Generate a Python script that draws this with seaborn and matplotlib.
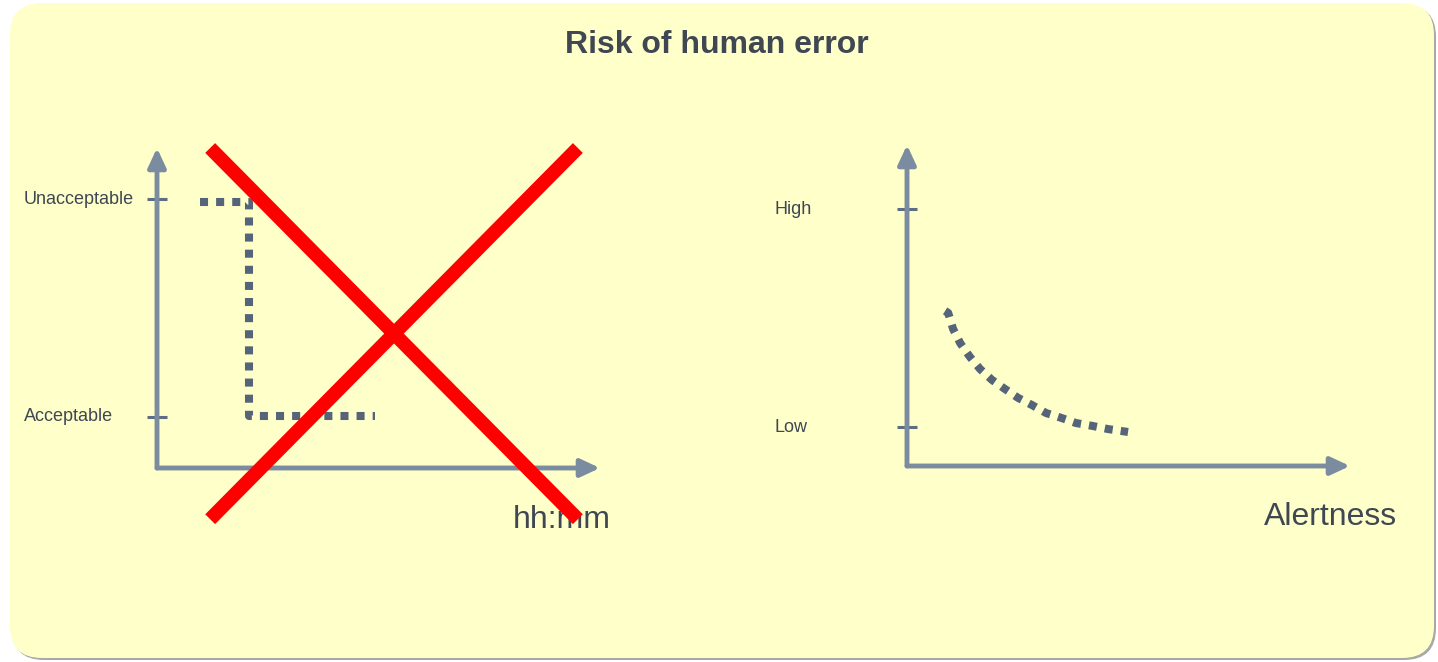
import matplotlib
matplotlib.use('Agg')
import matplotlib.pyplot as plt
import matplotlib.transforms as mtransforms
from matplotlib.patches import FancyBboxPatch
import seaborn as sns

# Left panel: error risk vs time of day (crossed out)
time_ticks = [84, 16]
time_tick_labels = ['Unacceptable', 'Acceptable']
step_x = [9.7, 20.8, 20.8, 49.2]
step_y = [83, 83, 16.3, 16.3]
cross_x = [12, 95]
cross_down_y = [100, -16]
cross_up_y = [-16, 100]

# Right panel: error risk vs alertness
alert_ticks = [80, 12]
alert_tick_labels = ['High', 'Low']
alert_x = [8.6, 9.3, 10.4, 12.0, 14.2, 16.5, 19.2, 22.1, 25.1, 28.2, 31.4,
           34.8, 38.1, 41.8, 45.4, 49.9]
alert_y = [48.3, 47.7, 42.7, 38.3, 34.0, 30.2, 26.8, 24.0, 21.2, 19.0, 16.5,
           15.0, 13.4, 12.5, 11.5, 10.6]

sns.set_theme(style='white')
plt.rcParams['font.family'] = ['Liberation Sans', 'DejaVu Sans']

W, H = 1438, 662
AXIS_COL = '#7b8ba0'
TICK_COL = '#5d6d82'
DOT_COL = '#56647a'
TEXT_COL = '#3f4752'

fig = plt.figure(figsize=(W / 100, H / 100), dpi=100)
fig.patch.set_facecolor('white')

# background card
bg = fig.add_axes([0, 0, 1, 1])
bg.set_xlim(0, W)
bg.set_ylim(H, 0)
bg.axis('off')
bg.add_patch(FancyBboxPatch((12, 5), 1424, 655, boxstyle='round,pad=0,rounding_size=32',
                            fc='#a8a8a8', ec='none'))
bg.add_patch(FancyBboxPatch((10, 3), 1424, 655, boxstyle='round,pad=0,rounding_size=32',
                            fc='#ffffca', ec='none'))

fig.text(717 / W, 1 - 53 / H, 'Risk of human error', ha='center', va='baseline',
         fontsize=23, fontweight='bold', color=TEXT_COL)


def make_axes(px_left, px_bottom, px_w, px_h):
    ax = fig.add_axes([px_left / W, 1 - px_bottom / H, px_w / W, px_h / H])
    ax.set_xlim(0, 100)
    ax.set_ylim(0, 100)
    ax.set_facecolor('none')
    for s in ax.spines.values():
        s.set_visible(False)
    ax.set_xticks([])
    arrow = dict(arrowstyle='-|>,head_length=0.58,head_width=0.27', color=AXIS_COL,
                 lw=3.5, shrinkA=0, shrinkB=0, mutation_scale=20)
    ax.annotate('', xy=(1, 0), xytext=(0, 0), xycoords='axes fraction', arrowprops=arrow)
    ax.annotate('', xy=(0, 1), xytext=(0, 0), xycoords='axes fraction', arrowprops=arrow)
    return ax


def add_ticks(ax, ticks, labels):
    ax.set_yticks(ticks)
    ax.set_yticklabels([])
    ax.tick_params(axis='y', direction='inout', length=14, width=2.2, color=TICK_COL, left=True)
    trans = mtransforms.blended_transform_factory(ax.transAxes, ax.transData)
    for t, lab in zip(ticks, labels):
        ax.text(-0.30, t, lab, transform=trans, ha='left', va='center',
                fontsize=13, color=TEXT_COL)


dots = dict(color=DOT_COL, linewidth=5.8, linestyle=(0, (1, 1)),
            dash_capstyle='butt', estimator=None, sort=False, legend=False)

# left chart
ax1 = make_axes(157, 468, 443, 320)
add_ticks(ax1, time_ticks, time_tick_labels)
sns.lineplot(x=step_x, y=step_y, ax=ax1, **dots)
ax1.plot(cross_x, cross_down_y, color='#ff0000', lw=10, solid_capstyle='butt',
         clip_on=False, zorder=5)
ax1.plot(cross_x, cross_up_y, color='#ff0000', lw=10, solid_capstyle='butt',
         clip_on=False, zorder=5)
ax1.text(1.025, -0.162, 'hh:mm', transform=ax1.transAxes, ha='right', va='center',
         fontsize=23, color=TEXT_COL, zorder=1)

# right chart
ax2 = make_axes(907, 466, 443, 321)
add_ticks(ax2, alert_ticks, alert_tick_labels)
sns.lineplot(x=alert_x, y=alert_y, ax=ax2, **dots)
ax2.text(1.106, -0.16, 'Alertness', transform=ax2.transAxes, ha='right', va='center',
         fontsize=23, color=TEXT_COL)

fig.savefig('out.png', dpi=100)
